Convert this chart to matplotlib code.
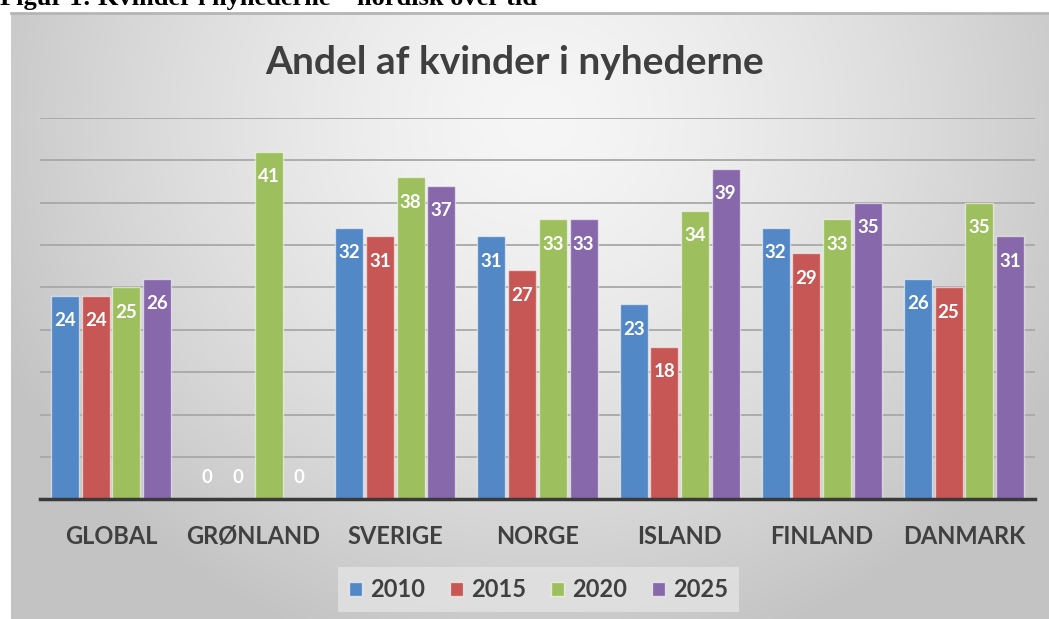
import numpy as np
import matplotlib.pyplot as plt
from matplotlib.patches import Patch

plt.rcParams['font.family'] = ['Lato', 'DejaVu Sans']

# data
lande = ['GLOBAL', 'GRØNLAND', 'SVERIGE', 'NORGE', 'ISLAND', 'FINLAND', 'DANMARK']
aar = ['2010', '2015', '2020', '2025']
v2010 = [24, 0, 32, 31, 23, 32, 26]
v2015 = [24, 0, 31, 27, 18, 29, 25]
v2020 = [25, 41, 38, 33, 34, 33, 35]
v2025 = [26, 0, 37, 33, 39, 35, 31]
serier = [v2010, v2015, v2020, v2025]
farver = ['#5388C6', '#C65754', '#9DBF5E', '#8769AB']

W, H = 1049, 619
fig = plt.figure(figsize=(W / 100, H / 100), dpi=100)
fig.patch.set_facecolor('white')

# baggrund med radial gradient (chart-boks)
bx0, by0 = 11, 13
bg = fig.add_axes([bx0 / W, 0, 1 - bx0 / W, 1 - by0 / H])
xx, yy = np.meshgrid(np.linspace(bx0, W, 400), np.linspace(by0, H, 300))
d = np.sqrt(((xx - 540) / 600) ** 2 + ((yy - 120) / 560) ** 2)
g = 0.965 - 0.2 * np.clip(d, 0, 1) ** 1.4
bg.imshow(np.dstack([g, g, g]), extent=[0, 1, 0, 1], aspect='auto', origin='upper')
bg.plot([0, 1], [1, 1], color='#b5b5b5', lw=2, transform=bg.transAxes, clip_on=False)
bg.set_xlim(0, 1)
bg.set_ylim(0, 1)
bg.axis('off')

# figurtekst, delvist skaaret af i toppen (som i originalen)
fig.text(0.0, 1 - 5 / H, 'Figur 1: Kvinder i nyhederne – nordisk over tid',
         family='Liberation Serif', weight='bold', fontsize=19,
         ha='left', va='baseline', color='black')

ax = fig.add_axes([40 / W, 1 - 499.3 / H, 995 / W, (499.3 - 117.7) / H])
ax.set_facecolor('none')

x = np.arange(len(lande))
bredde = 0.197
afstand = 0.216
for i, (vals, c) in enumerate(zip(serier, farver)):
    pos = x + (i - 1.5) * afstand
    ax.bar(pos, vals, width=bredde, color=c, edgecolor=(1, 1, 1, 0.55), linewidth=1, zorder=3)
    for px, v in zip(pos, vals):
        dy = -18 if v > 0 else 16
        ax.annotate(str(v), (px, v), xytext=(0, dy), textcoords='offset points',
                    ha='center', va='center', color='white', fontsize=13.5,
                    fontweight='bold', zorder=5)

ax.set_xlim(-0.5, len(lande) - 0.5)
ax.set_ylim(0, 45)
ax.set_yticks(np.arange(5, 46, 5))
ax.yaxis.grid(True, color='#a8a8a8', linewidth=1.3, zorder=0)
ax.tick_params(axis='y', left=False, labelleft=False)
ax.set_xticks(x)
ax.set_xticklabels(lande, fontsize=17, fontweight='bold', color='#404040')
ax.tick_params(axis='x', length=0, pad=18.5)
for s in ['top', 'right', 'left']:
    ax.spines[s].set_visible(False)
ax.spines['bottom'].set_color('#3a3a3a')
ax.spines['bottom'].set_linewidth(2.5)
ax.spines['bottom'].set_zorder(6)

fig.text(515 / W, 1 - 62 / H, 'Andel af kvinder i nyhederne', ha='center', va='center',
         fontsize=28, fontweight='bold', color='#3f3f3f')

handles = [Patch(facecolor=c, edgecolor=(1, 1, 1, 0.6), label=a) for c, a in zip(farver, aar)]
leg = fig.legend(handles=handles, loc='center', bbox_to_anchor=(538.5 / W, 1 - 589.5 / H),
                 ncol=4, frameon=True, fancybox=False, fontsize=17,
                 handlelength=0.55, handleheight=0.55, handletextpad=0.35,
                 columnspacing=1.05, borderpad=0.45)
leg.get_frame().set_facecolor('#e3e3e3')
leg.get_frame().set_edgecolor('none')
for t in leg.get_texts():
    t.set_color('#404040')
    t.set_fontweight('bold')

fig.savefig('out.png', dpi=100)
